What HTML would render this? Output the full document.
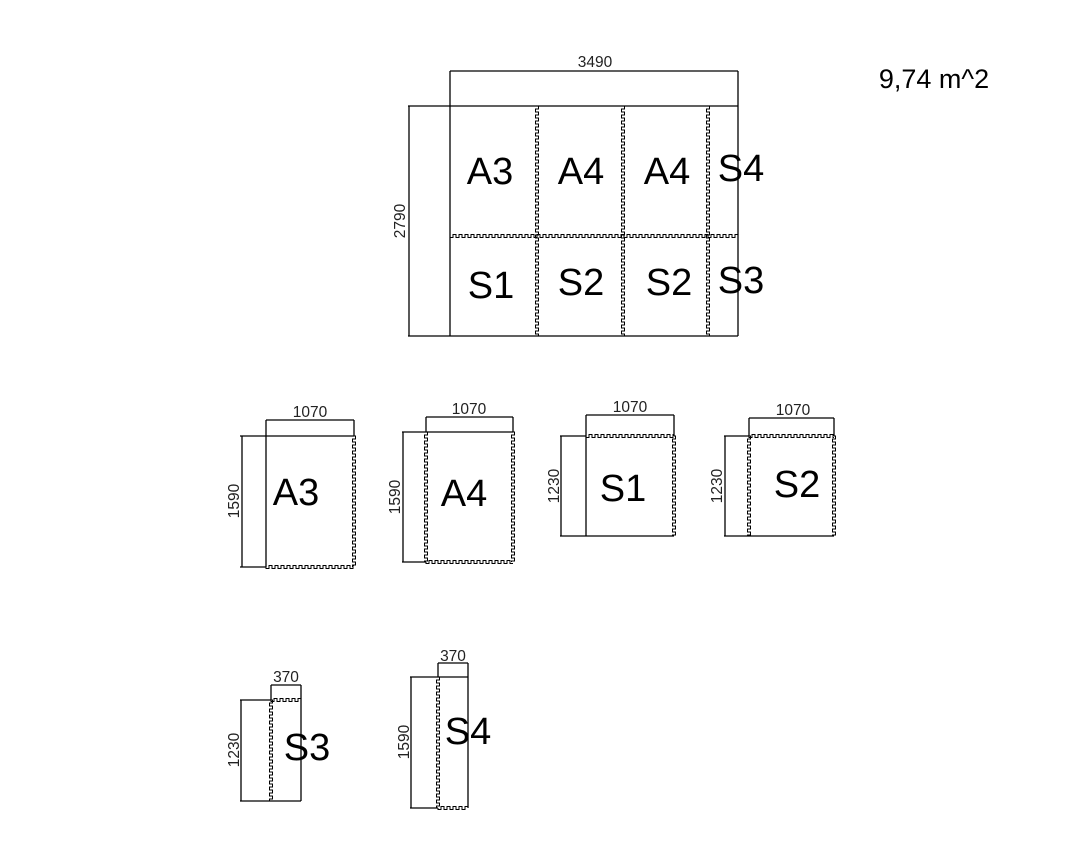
<!DOCTYPE html>
<html><head><meta charset="utf-8"><style>
html,body{margin:0;padding:0;background:#fff;}
svg{display:block;}
text{font-family:"Liberation Sans",Arial,sans-serif;fill:#000;}
.d{font-size:15.5px;fill:#222;}
.l{font-size:38px;}
</style></head><body>
<svg id="s" width="1070" height="866" viewBox="0 0 1070 866" xmlns="http://www.w3.org/2000/svg">
<g stroke="#000" stroke-width="1.3" fill="none" id="g">
<line x1="408" y1="106" x2="738" y2="106"/>
<line x1="408" y1="336" x2="738" y2="336"/>
<line x1="450" y1="71" x2="450" y2="336"/>
<line x1="738" y1="71" x2="738" y2="336"/>
<line x1="450" y1="71" x2="738" y2="71"/>
<line x1="409" y1="106" x2="409" y2="336"/>
<line x1="240" y1="436" x2="354" y2="436"/>
<line x1="240" y1="567" x2="266" y2="567"/>
<line x1="266" y1="420" x2="266" y2="567"/>
<line x1="354" y1="420" x2="354" y2="436"/>
<line x1="266" y1="420" x2="354" y2="420"/>
<line x1="242" y1="436" x2="242" y2="567"/>
<line x1="402" y1="432" x2="513" y2="432"/>
<line x1="402" y1="562" x2="426" y2="562"/>
<line x1="426" y1="417" x2="426" y2="432"/>
<line x1="513" y1="417" x2="513" y2="432"/>
<line x1="426" y1="417" x2="513" y2="417"/>
<line x1="403" y1="432" x2="403" y2="562"/>
<line x1="560" y1="436" x2="586" y2="436"/>
<line x1="560" y1="536" x2="674" y2="536"/>
<line x1="586" y1="415" x2="586" y2="536"/>
<line x1="674" y1="415" x2="674" y2="436"/>
<line x1="586" y1="415" x2="674" y2="415"/>
<line x1="561" y1="436" x2="561" y2="536"/>
<line x1="724" y1="436" x2="749" y2="436"/>
<line x1="724" y1="536" x2="834" y2="536"/>
<line x1="749" y1="418" x2="749" y2="436"/>
<line x1="834" y1="418" x2="834" y2="436"/>
<line x1="749" y1="418" x2="834" y2="418"/>
<line x1="725" y1="436" x2="725" y2="536"/>
<line x1="240" y1="700" x2="271" y2="700"/>
<line x1="240" y1="801" x2="301" y2="801"/>
<line x1="271" y1="685" x2="271" y2="700"/>
<line x1="301" y1="685" x2="301" y2="801"/>
<line x1="271" y1="685" x2="301" y2="685"/>
<line x1="241" y1="700" x2="241" y2="801"/>
<line x1="410" y1="677" x2="468" y2="677"/>
<line x1="410" y1="808" x2="438" y2="808"/>
<line x1="438" y1="663" x2="438" y2="677"/>
<line x1="468" y1="663" x2="468" y2="808"/>
<line x1="438" y1="663" x2="468" y2="663"/>
<line x1="411" y1="677" x2="411" y2="808"/>
</g>
<g stroke="#000" stroke-width="1" fill="none" id="p"></g>
<text class="d" x="595" y="67" text-anchor="middle">3490</text>
<text class="d" transform="translate(405,221) rotate(-90)" text-anchor="middle">2790</text>
<text x="934" y="88" text-anchor="middle" font-size="27">9,74 m^2</text>
<text class="l" x="490" y="184" text-anchor="middle">A3</text>
<text class="l" x="581" y="184" text-anchor="middle">A4</text>
<text class="l" x="667" y="184" text-anchor="middle">A4</text>
<text class="l" x="741" y="181" text-anchor="middle">S4</text>
<text class="l" x="491" y="298" text-anchor="middle">S1</text>
<text class="l" x="581" y="295" text-anchor="middle">S2</text>
<text class="l" x="669" y="295" text-anchor="middle">S2</text>
<text class="l" x="741" y="293" text-anchor="middle">S3</text>
<text class="d" x="310" y="417" text-anchor="middle">1070</text>
<text class="d" x="469" y="414" text-anchor="middle">1070</text>
<text class="d" x="630" y="412" text-anchor="middle">1070</text>
<text class="d" x="793" y="415" text-anchor="middle">1070</text>
<text class="d" x="286" y="682" text-anchor="middle">370</text>
<text class="d" x="453" y="661" text-anchor="middle">370</text>
<text class="d" transform="translate(239,501) rotate(-90)" text-anchor="middle">1590</text>
<text class="d" transform="translate(400,497) rotate(-90)" text-anchor="middle">1590</text>
<text class="d" transform="translate(559,486) rotate(-90)" text-anchor="middle">1230</text>
<text class="d" transform="translate(722,486) rotate(-90)" text-anchor="middle">1230</text>
<text class="d" transform="translate(239,750) rotate(-90)" text-anchor="middle">1230</text>
<text class="d" transform="translate(409,742) rotate(-90)" text-anchor="middle">1590</text>
<text class="l" x="296" y="505" text-anchor="middle">A3</text>
<text class="l" x="464" y="506" text-anchor="middle">A4</text>
<text class="l" x="623" y="501" text-anchor="middle">S1</text>
<text class="l" x="797" y="497" text-anchor="middle">S2</text>
<text class="l" x="307" y="760" text-anchor="middle">S3</text>
<text class="l" x="468" y="744" text-anchor="middle">S4</text>
</svg>
<script>
(function(){
var g=document.getElementById('p');
function v(x,y1,y2){var d='M'+x+' '+y1,p=6,a=1.5,s=1,y=y1;while(y<y2){var yn=Math.min(y+p/2,y2);d+=' L'+(x+s*a)+' '+y+' L'+(x+s*a)+' '+yn;s=-s;y=yn;}add(d);}
function h(y,x1,x2){var d='M'+x1+' '+y,p=6,a=1.5,s=1,x=x1;while(x<x2){var xn=Math.min(x+p/2,x2);d+=' L'+x+' '+(y+s*a)+' L'+xn+' '+(y+s*a);s=-s;x=xn;}add(d);}
function add(d){var e=document.createElementNS('http://www.w3.org/2000/svg','path');e.setAttribute('d',d);g.appendChild(e);}
v(537,106,336);v(623,106,336);v(708,106,336);h(236,450,738);
v(354,436,567);h(567,266,354);
v(426,432,562);v(513,432,562);h(562,426,513);
h(436,586,674);v(674,436,536);
h(436,749,834);v(749,436,536);v(834,436,536);
h(700,271,301);v(271,700,801);
v(438,677,808);h(808,438,468);
})();
</script>
</body></html>
